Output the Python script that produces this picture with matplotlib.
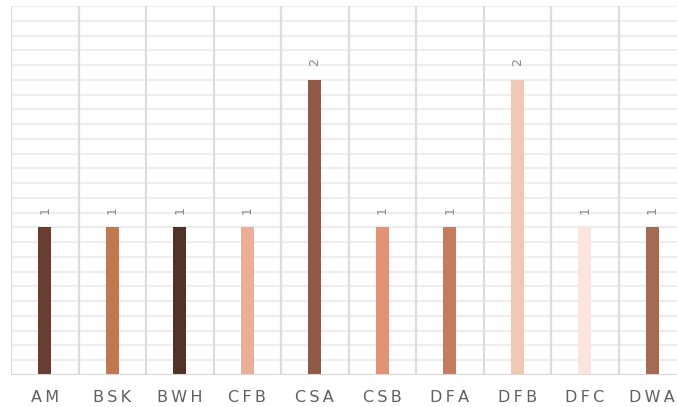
import numpy as np
import matplotlib
matplotlib.use("Agg")
import matplotlib.pyplot as plt

# climate zones and number of entries per zone
zones = ["AM", "BSK", "BWH", "CFB", "CSA", "CSB", "DFA", "DFB", "DFC", "DWA"]
counts = [1, 1, 1, 1, 2, 1, 1, 2, 1, 1]
colors = ["#683E30", "#C07850", "#503226", "#EAAF98", "#925A46",
          "#E29276", "#C67D5F", "#EFC9B6", "#FAE6DD", "#A46A52"]

fig = plt.figure(figsize=(6.77, 4.07), dpi=100)
ax = fig.add_axes([11 / 677, 32 / 407, 675 / 677, 369 / 407])

x = np.arange(len(zones))
ax.bar(x, counts, width=0.19, color=colors, zorder=3)

for xi, v in zip(x, counts):
    ax.annotate(str(v), (xi, v), xytext=(0, 10), textcoords="offset points",
                ha="center", va="bottom", rotation=90, fontsize=9,
                color="#8a8a8a", zorder=4)

ax.set_xlim(-0.5, len(zones) - 0.5)
ax.set_ylim(0, 2.5)

# light horizontal rules every 0.1, heavier separators between zones
for y in np.arange(0.1, 2.51, 0.1):
    ax.axhline(y, color="#eeeeee", lw=1.6, zorder=1)
for b in np.arange(-0.5, len(zones), 1.0):
    ax.axvline(b, color="#dcdcdc", lw=1.6, zorder=2)
ax.axhline(0, color="#d6d6d6", lw=2.2, zorder=4)

# spaced-out tick labels
ax.set_xticks(x)
ax.set_xticklabels(["\u2009".join(z) for z in zones], fontsize=11.5,
                   color="#606060", family=["DejaVu Sans"])
ax.tick_params(axis="x", length=0, pad=11)
ax.set_yticks([])
for s in ax.spines.values():
    s.set_visible(False)

fig.savefig("out.png", dpi=100)
